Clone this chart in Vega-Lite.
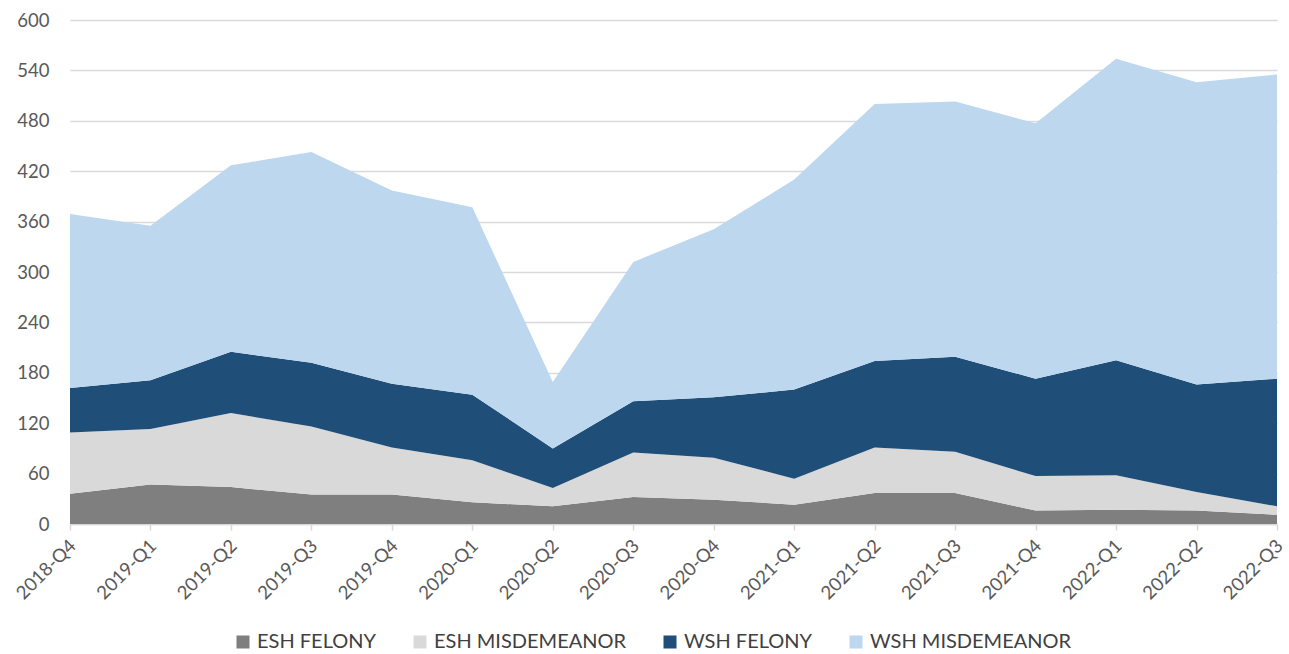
{
  "$schema": "https://vega.github.io/schema/vega-lite/v6.json",
  "width": 1207,
  "height": 504,
  "autosize": {"type": "none"},
  "padding": {"left": 70, "top": 20, "right": 12, "bottom": 130},
  "background": "white",
  "config": {
    "font": "Lato",
    "view": {"stroke": null}
  },
  "data": {
    "values": [
      {"q": "2018-Q4", "s": "ESH FELONY", "v": 36}, {"q": "2018-Q4", "s": "ESH MISDEMEANOR", "v": 73}, {"q": "2018-Q4", "s": "WSH FELONY", "v": 53}, {"q": "2018-Q4", "s": "WSH MISDEMEANOR", "v": 207},
      {"q": "2019-Q1", "s": "ESH FELONY", "v": 47}, {"q": "2019-Q1", "s": "ESH MISDEMEANOR", "v": 66}, {"q": "2019-Q1", "s": "WSH FELONY", "v": 58}, {"q": "2019-Q1", "s": "WSH MISDEMEANOR", "v": 184},
      {"q": "2019-Q2", "s": "ESH FELONY", "v": 44}, {"q": "2019-Q2", "s": "ESH MISDEMEANOR", "v": 88}, {"q": "2019-Q2", "s": "WSH FELONY", "v": 73}, {"q": "2019-Q2", "s": "WSH MISDEMEANOR", "v": 222},
      {"q": "2019-Q3", "s": "ESH FELONY", "v": 35}, {"q": "2019-Q3", "s": "ESH MISDEMEANOR", "v": 81}, {"q": "2019-Q3", "s": "WSH FELONY", "v": 76}, {"q": "2019-Q3", "s": "WSH MISDEMEANOR", "v": 251},
      {"q": "2019-Q4", "s": "ESH FELONY", "v": 35}, {"q": "2019-Q4", "s": "ESH MISDEMEANOR", "v": 56}, {"q": "2019-Q4", "s": "WSH FELONY", "v": 76}, {"q": "2019-Q4", "s": "WSH MISDEMEANOR", "v": 230},
      {"q": "2020-Q1", "s": "ESH FELONY", "v": 26}, {"q": "2020-Q1", "s": "ESH MISDEMEANOR", "v": 50}, {"q": "2020-Q1", "s": "WSH FELONY", "v": 78}, {"q": "2020-Q1", "s": "WSH MISDEMEANOR", "v": 223},
      {"q": "2020-Q2", "s": "ESH FELONY", "v": 21}, {"q": "2020-Q2", "s": "ESH MISDEMEANOR", "v": 22}, {"q": "2020-Q2", "s": "WSH FELONY", "v": 47}, {"q": "2020-Q2", "s": "WSH MISDEMEANOR", "v": 79},
      {"q": "2020-Q3", "s": "ESH FELONY", "v": 32}, {"q": "2020-Q3", "s": "ESH MISDEMEANOR", "v": 53}, {"q": "2020-Q3", "s": "WSH FELONY", "v": 61}, {"q": "2020-Q3", "s": "WSH MISDEMEANOR", "v": 166},
      {"q": "2020-Q4", "s": "ESH FELONY", "v": 29}, {"q": "2020-Q4", "s": "ESH MISDEMEANOR", "v": 50}, {"q": "2020-Q4", "s": "WSH FELONY", "v": 72}, {"q": "2020-Q4", "s": "WSH MISDEMEANOR", "v": 200},
      {"q": "2021-Q1", "s": "ESH FELONY", "v": 23}, {"q": "2021-Q1", "s": "ESH MISDEMEANOR", "v": 31}, {"q": "2021-Q1", "s": "WSH FELONY", "v": 106}, {"q": "2021-Q1", "s": "WSH MISDEMEANOR", "v": 250},
      {"q": "2021-Q2", "s": "ESH FELONY", "v": 37}, {"q": "2021-Q2", "s": "ESH MISDEMEANOR", "v": 54}, {"q": "2021-Q2", "s": "WSH FELONY", "v": 103}, {"q": "2021-Q2", "s": "WSH MISDEMEANOR", "v": 306},
      {"q": "2021-Q3", "s": "ESH FELONY", "v": 37}, {"q": "2021-Q3", "s": "ESH MISDEMEANOR", "v": 49}, {"q": "2021-Q3", "s": "WSH FELONY", "v": 113}, {"q": "2021-Q3", "s": "WSH MISDEMEANOR", "v": 304},
      {"q": "2021-Q4", "s": "ESH FELONY", "v": 16}, {"q": "2021-Q4", "s": "ESH MISDEMEANOR", "v": 41}, {"q": "2021-Q4", "s": "WSH FELONY", "v": 116}, {"q": "2021-Q4", "s": "WSH MISDEMEANOR", "v": 304},
      {"q": "2022-Q1", "s": "ESH FELONY", "v": 17}, {"q": "2022-Q1", "s": "ESH MISDEMEANOR", "v": 41}, {"q": "2022-Q1", "s": "WSH FELONY", "v": 137}, {"q": "2022-Q1", "s": "WSH MISDEMEANOR", "v": 359},
      {"q": "2022-Q2", "s": "ESH FELONY", "v": 16}, {"q": "2022-Q2", "s": "ESH MISDEMEANOR", "v": 22}, {"q": "2022-Q2", "s": "WSH FELONY", "v": 128}, {"q": "2022-Q2", "s": "WSH MISDEMEANOR", "v": 360},
      {"q": "2022-Q3", "s": "ESH FELONY", "v": 11}, {"q": "2022-Q3", "s": "ESH MISDEMEANOR", "v": 10}, {"q": "2022-Q3", "s": "WSH FELONY", "v": 152}, {"q": "2022-Q3", "s": "WSH MISDEMEANOR", "v": 362}
    ]
  },
  "mark": {"type": "area", "interpolate": "linear"},
  "encoding": {
    "x": {
      "field": "q", "type": "ordinal",
      "scale": {"type": "point", "padding": 0},
      "axis": {
        "title": null, "labelAngle": -45, "labelFontSize": 18.5, "labelColor": "#595959",
        "domainColor": "#d9d9d9", "domainWidth": 1.5, "tickColor": "#d9d9d9", "tickSize": 6, "tickWidth": 1.5,
        "labelPadding": 6, "labelOffset": -4, "grid": false
      }
    },
    "y": {
      "field": "v", "type": "quantitative", "stack": "zero",
      "scale": {"domain": [0, 600], "nice": false},
      "axis": {
        "title": null, "values": [0, 60, 120, 180, 240, 300, 360, 420, 480, 540, 600],
        "labelFontSize": 18.5, "labelColor": "#595959", "labelPadding": 21,
        "domain": false, "ticks": false, "gridColor": "#d9d9d9", "gridWidth": 1.5
      }
    },
    "color": {
      "field": "s", "type": "nominal",
      "scale": {
        "domain": ["ESH FELONY", "ESH MISDEMEANOR", "WSH FELONY", "WSH MISDEMEANOR"],
        "range": ["#7f7f7f", "#d9d9d9", "#1f4e79", "#bdd7ee"]
      },
      "legend": {
        "title": null, "orient": "none", "direction": "horizontal",
        "legendX": 163, "legendY": 612,
        "symbolType": "square", "symbolSize": 169, "symbolStrokeWidth": 0,
        "labelFontSize": 20, "labelColor": "#404040", "labelLimit": 0, "columnPadding": 33, "labelOffset": 4
      }
    },
    "order": {"field": "s", "sort": "ascending"}
  }
}
